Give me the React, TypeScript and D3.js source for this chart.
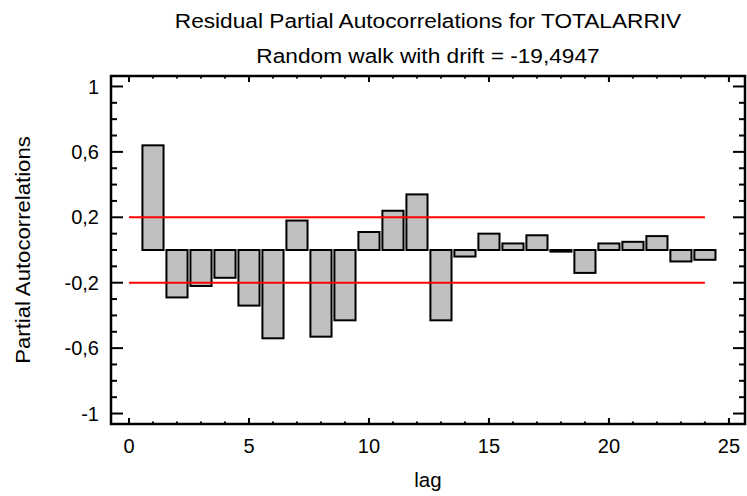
import React from 'react';
import * as d3 from 'd3';

const lags = [1, 2, 3, 4, 5, 6, 7, 8, 9, 10, 11, 12, 13, 14, 15, 16, 17, 18, 19, 20, 21, 22, 23, 24];
const pacf = [0.64, -0.29, -0.22, -0.17, -0.34, -0.54, 0.18, -0.53, -0.43, 0.11, 0.24, 0.34, -0.43, -0.04, 0.1, 0.04, 0.09, -0.01, -0.14, 0.04, 0.05, 0.085, -0.07, -0.06];
const limitUpper = 0.2;
const limitLower = -0.2;
const limitFrom = 0;
const limitTo = 24;
const xTicks = [0, 5, 10, 15, 20, 25];
const xMinor = d3.range(0, 26, 1);
const yTicks = [1, 0.6, 0.2, -0.2, -0.6, -1];
const yMinor = d3.range(-10, 11, 1).map((d) => d / 10);
const title1 = 'Residual Partial Autocorrelations for TOTALARRIV';
const title2 = 'Random walk with drift = -19,4947';
const xLabel = 'lag';
const yLabel = 'Partial Autocorrelations';

const W = 747;
const H = 496;
const left = 111;
const right = 745;
const top = 76;
const bottom = 424;

const fmt = (v: number) => String(v).replace('.', ',');

export default function App() {
  const x = d3.scaleLinear().domain([-0.75, 25.67]).range([left, right]);
  const y = d3.scaleLinear().domain([-1.064, 1.064]).range([bottom, top]);
  const bw = x(0.88) - x(0);
  const font = 'Liberation Sans, Arial, sans-serif';
  const cx = (left + right) / 2;

  return (
    <svg width={W} height={H} style={{ position: 'absolute', left: 0, top: 0 }} fontFamily={font}>
      <rect x={0} y={0} width={W} height={H} fill="#fff" />
      <text transform={`translate(${cx},28) scale(1.08,1)`} textAnchor="middle" fontSize={21} fill="#000">{title1}</text>
      <text transform={`translate(${cx},62.5) scale(1.08,1)`} textAnchor="middle" fontSize={21} fill="#000">{title2}</text>

      {/* bars */}
      {lags.map((l, i) => {
        const v = pacf[i];
        const y0 = y(Math.max(0, v));
        const y1 = y(Math.min(0, v));
        return (
          <rect key={l} x={x(l) - bw / 2} y={y0} width={bw} height={Math.max(1, y1 - y0)}
            fill="#c0c0c0" stroke="#000" strokeWidth={2} />
        );
      })}

      {/* limits */}
      {[limitUpper, limitLower].map((v) => (
        <line key={v} x1={x(limitFrom)} x2={x(limitTo)} y1={y(v)} y2={y(v)} stroke="#ff0000" strokeWidth={2} />
      ))}

      {/* frame */}
      <rect x={left} y={top} width={right - left} height={bottom - top} fill="none" stroke="#000" strokeWidth={2.5} />

      {/* x ticks */}
      {xMinor.map((t) => {
        const major = t % 5 === 0;
        const len = major ? 6 : 2.5;
        return (
          <g key={'x' + t}>
            <line x1={x(t)} x2={x(t)} y1={bottom} y2={bottom - len} stroke="#000" strokeWidth={2} />
            <line x1={x(t)} x2={x(t)} y1={top} y2={top + len} stroke="#000" strokeWidth={2} />
          </g>
        );
      })}
      {/* y ticks */}
      {yMinor.map((t) => {
        const major = yTicks.some((m) => Math.abs(m - t) < 1e-9);
        const len = major ? 12 : 6;
        return (
          <g key={'y' + t}>
            <line x1={left} x2={left + len} y1={y(t)} y2={y(t)} stroke="#000" strokeWidth={2} />
            <line x1={right} x2={right - len} y1={y(t)} y2={y(t)} stroke="#000" strokeWidth={2} />
          </g>
        );
      })}

      {xTicks.map((t) => (
        <text key={'xl' + t} x={x(t)} y={453} textAnchor="middle" fontSize={20} fill="#000">{t}</text>
      ))}
      {yTicks.map((t) => (
        <text key={'yl' + t} x={99} y={y(t)} dy="0.36em" textAnchor="end" fontSize={20} fill="#000">{fmt(t)}</text>
      ))}

      <text x={cx} y={487} textAnchor="middle" fontSize={20.5} fill="#000">{xLabel}</text>
      <text transform={`translate(30,${(top + bottom) / 2}) rotate(-90) scale(1.08,1)`} textAnchor="middle" fontSize={20.5} fill="#000">{yLabel}</text>
    </svg>
  );
}
